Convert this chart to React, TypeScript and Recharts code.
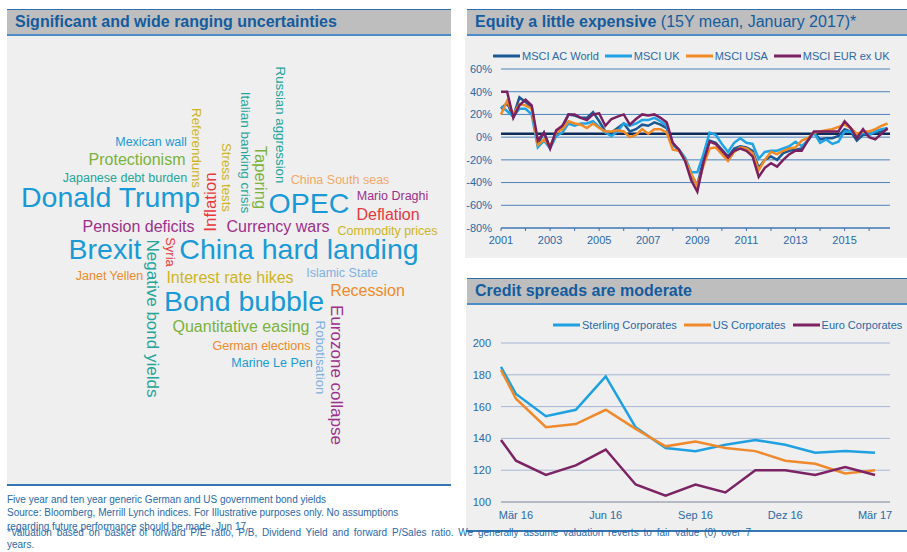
import {
  LineChart,
  Line,
  XAxis,
  YAxis,
  CartesianGrid,
  ReferenceLine,
  ScatterChart,
  Scatter,
} from 'recharts';

const FONT = '"Liberation Sans", Arial, Helvetica, sans-serif';
const TEXT_BLUE = '#2a68a8';
const TITLE_BLUE = '#145c9e';

// ---- word cloud (left panel) ----
const words = [
  'Russian aggression', 'Italian banking crisis', 'Referendums', 'Mexican wall', 'Protectionism',
  'Stress tests', 'Tapering', 'Japanese debt burden', 'China South seas', 'Donald Trump',
  'Inflation', 'OPEC', 'Mario Draghi', 'Deflation', 'Pension deficits',
  'Currency wars', 'Commodity prices', 'Brexit', 'Negative bond yields', 'Syria',
  'China hard landing', 'Janet Yellen', 'Interest rate hikes', 'Islamic State', 'Recession',
  'Bond bubble', 'Quantitative easing', 'German elections', 'Marine Le Pen', 'Robotisation',
  'Eurozone collapse',
];
// word weight (rendered as font size)
const wordWeight = [
  13.3, 13.5, 13.3, 12.5, 16,
  13.2, 16.5, 12.5, 12.5, 28.5,
  17, 28.5, 12.5, 16, 16,
  16, 12.5, 28.5, 17, 13,
  28.5, 12.5, 16, 12.5, 16,
  28.5, 16, 12.5, 12.5, 13.3,
  17,
];
// cloud layout coordinates
const wordX = [273, 238, 189, 144, 130, 219, 254, 118, 333, 103.5, 203, 302, 385.5, 381, 131.5, 271, 380.5, 98, 145.5, 163, 292, 102.5, 223, 335, 360.5, 237, 234, 254.5, 265, 313, 329.5];
const wordY = [89, 116.5, 112, 105.7, 123, 141.5, 141.5, 142, 144, 161, 166, 167, 160, 178.5, 190, 190, 195, 212.5, 282.5, 216, 213, 239.5, 241.5, 237, 254, 264.7, 290, 310, 327, 321.5, 339];
const wordRotation = [90, 90, 90, 0, 0, 90, 90, 0, 0, 0, -90, 0, 0, 0, 0, 0, 0, 0, 90, 90, 0, 0, 0, 0, 0, 0, 0, 0, 0, 90, 90];
const palette: Record<string, string> = {
  blue: '#199ad6',
  green: '#7ab23c',
  teal: '#23a59b',
  purple: '#9c2f8d',
  red: '#e8383d',
  yellow: '#cdb51d',
  orange: '#ee8a2a',
  lightOrange: '#f2a965',
  lightBlue: '#7fb0e2',
};
const wordColor = [
  'teal', 'teal', 'yellow', 'blue', 'green', 'yellow', 'green', 'teal', 'lightOrange', 'blue',
  'red', 'blue', 'purple', 'red', 'purple', 'purple', 'yellow', 'blue', 'teal', 'red',
  'blue', 'orange', 'yellow', 'lightBlue', 'orange', 'blue', 'green', 'orange', 'blue', 'lightBlue',
  'purple',
];

// ---- equity valuations, quarterly 2001-2016 (% vs 15Y mean) ----
const acWorld = [25, 30, 18, 35, 31, 26, -6, 4, -9, 5, 8, 20, 19, 17, 17, 22, 14, 5, 4, 8, 12, 5, 7, 11, 10, 13, 11, 8, -7, -11, -20, -34, -42, -20, -3, -5, -11, -17, -10, -8, -9, -12, -27, -20, -17, -20, -14, -12, -11, -10, -3, 4, -2, -1, -1, 1, 7, 5, -3, 2, 2, 4, 5, 7];
const msciUK = [27, 23, 18, 25, 25, 20, -9, -3, -10, 1, 4, 12, 10, 12, 12, 14, 9, 4, 1, 5, 12, 10, 12, 15, 15, 17, 14, 10, -7, -11, -18, -31, -31, -15, 4, 2, -6, -13, -5, -1, -5, -6, -19, -13, -12, -12, -10, -8, -4, -8, -3, 4, -5, -2, -6, -4, 5, 5, 1, 4, 2, 5, 7, 8];
const msciUSA = [20, 32, 20, 29, 28, 25, -7, -2, -8, 4, 7, 14, 12, 11, 8, 12, 8, 5, 5, 6, 5, 0, 2, 7, 3, 7, 7, 4, -11, -12, -20, -32, -43, -25, -10, -9, -15, -21, -13, -9, -10, -14, -29, -20, -13, -15, -12, -10, -9, -3, -1, 4, 5, 6, 7, 9, 11, 8, 3, 5, 5, 7, 10, 12];
const msciEur = [40, 40, 17, 28, 33, 28, -3, 4, -10, 6, 10, 20, 20, 17, 15, 20, 21, 10, 16, 18, 20, 11, 16, 20, 19, 20, 17, 13, -5, -11, -21, -38, -48, -22, -4, -6, -12, -18, -12, -10, -12, -17, -35, -27, -23, -26, -20, -15, -12, -12, -3, 5, 5, 5, 5, 5, 14, 8, -1, 7, 0, -2, 3, 8];
const quarters = Array.from({ length: 64 }, (_, i) => 2001 + i / 4);
const yearTicks = Array.from({ length: 16 }, (_, i) => 2001 + i);
const pctTicks = [-80, -60, -40, -20, 0, 20, 40, 60];

// ---- credit spreads (bp), monthly ----
const creditMonths = [-0.5, 0, 1, 2, 3, 4, 5, 6, 7, 8, 9, 10, 11, 12];
const monthTicks = [0, 3, 6, 9, 12];
const monthLabels = ['Mär 16', 'Jun 16', 'Sep 16', 'Dez 16', 'Mär 17'];
const sterling = [185, 168, 154, 158, 179, 147, 134, 132, 136, 139, 136, 131, 132, 131];
const usCorp = [183, 165, 147, 149, 158, 146, 135, 138, 134, 132, 126, 124, 118, 120];
const euroCorp = [139, 126, 117, 123, 133, 111, 104, 111, 106, 120, 120, 117, 122, 117];
const spreadTicks = [100, 120, 140, 160, 180, 200];

const cloudData = words.map((word, i) => ({
  word,
  x: wordX[i],
  y: wordY[i],
  size: wordWeight[i],
  rot: wordRotation[i],
  color: palette[wordColor[i]],
}));

const equityData = quarters.map((year, i) => ({
  year,
  acWorld: acWorld[i],
  uk: msciUK[i],
  usa: msciUSA[i],
  eur: msciEur[i],
}));

const creditData = creditMonths.map((m, i) => ({
  m,
  sterling: sterling[i],
  us: usCorp[i],
  euro: euroCorp[i],
}));

const EQUITY_SERIES = [
  { key: 'acWorld', label: 'MSCI AC World', color: '#1b5894' },
  { key: 'uk', label: 'MSCI UK', color: '#1fa3e4' },
  { key: 'usa', label: 'MSCI USA', color: '#ef8a26' },
  { key: 'eur', label: 'MSCI EUR ex UK', color: '#7a2060' },
];

const CREDIT_SERIES = [
  { key: 'sterling', label: 'Sterling Corporates', color: '#1fa0e0' },
  { key: 'us', label: 'US Corporates', color: '#ee8a2c' },
  { key: 'euro', label: 'Euro Corporates', color: '#7b2363' },
];

const renderWord = (props: any) => {
  const { cx, cy, payload } = props;
  return (
    <text
      x={cx}
      y={cy}
      textAnchor="middle"
      dominantBaseline="central"
      fontSize={payload.size}
      fontFamily={FONT}
      fill={payload.color}
      transform={payload.rot ? `rotate(${payload.rot} ${cx} ${cy})` : undefined}
    >
      {payload.word}
    </text>
  );
};

function Header({ left, top, width, children }: any) {
  return (
    <div
      style={{
        position: 'absolute',
        left,
        top,
        width,
        height: 24,
        background: '#bebebe',
        borderTop: '1px solid #2d6fae',
        borderBottom: '2px solid #4d8cc6',
        color: TITLE_BLUE,
        fontSize: 16,
        lineHeight: '24px',
        paddingLeft: 8,
        boxSizing: 'content-box',
        whiteSpace: 'nowrap',
      }}
    >
      {children}
    </div>
  );
}

function LegendRow({ items, style }: any) {
  return (
    <div
      style={{
        position: 'absolute',
        display: 'flex',
        alignItems: 'center',
        gap: 6,
        fontSize: 11,
        color: TEXT_BLUE,
        whiteSpace: 'nowrap',
        ...style,
      }}
    >
      {items.map((it: any) => (
        <div key={it.key} style={{ display: 'flex', alignItems: 'center' }}>
          <svg width={27} height={4} style={{ marginRight: 2 }}>
            <line x1={0} y1={2} x2={27} y2={2} stroke={it.color} strokeWidth={3} />
          </svg>
          <span>{it.label}</span>
        </div>
      ))}
    </div>
  );
}

const note = (top: number, text: string, extra: any = {}) => (
  <div
    style={{
      position: 'absolute',
      left: 7,
      top,
      fontSize: 10,
      lineHeight: '12px',
      color: TEXT_BLUE,
      whiteSpace: 'nowrap',
      ...extra,
    }}
  >
    {text}
  </div>
);

export default function App() {
  const tick = { fontSize: 11, fill: TEXT_BLUE, fontFamily: FONT };
  return (
    <div
      style={{
        position: 'absolute',
        left: 0,
        top: 0,
        width: 907,
        height: 552,
        overflow: 'hidden',
        background: '#ffffff',
        fontFamily: FONT,
      }}
    >
      {/* left panel */}
      <Header left={7} top={9} width={436}>
        <b>Significant and wide ranging uncertainties</b>
      </Header>
      <div
        style={{
          position: 'absolute',
          left: 7,
          top: 36,
          width: 444,
          height: 448,
          background: '#efefef',
          borderBottom: '2px solid #3577b5',
        }}
      >
        <ScatterChart width={444} height={449} margin={{ top: 0, right: 0, bottom: 0, left: 0 }}>
          <XAxis type="number" dataKey="x" domain={[0, 444]} hide />
          <YAxis type="number" dataKey="y" domain={[0, 449]} reversed hide />
          <Scatter data={cloudData} shape={renderWord} isAnimationActive={false} />
        </ScatterChart>
      </div>

      {/* equity panel */}
      <Header left={467} top={9} width={432}>
        <b>Equity a little expensive</b> (15Y mean, January 2017)*
      </Header>
      <div
        style={{ position: 'absolute', left: 465, top: 36, width: 442, height: 222, background: '#efefef' }}
      >
        <div style={{ position: 'absolute', left: 1, top: 0 }}>
          <LineChart width={441} height={218} data={equityData} margin={{ top: 33, right: 17, bottom: 0, left: 0 }}>
            <CartesianGrid vertical={false} stroke="#4d82ba" strokeWidth={1} />
            <XAxis
              dataKey="year"
              type="number"
              domain={[2001, 2016.85]}
              ticks={yearTicks}
              interval={0}
              tickFormatter={(v: number) => (v % 2 === 1 ? String(v) : '')}
              height={26}
              tick={tick}
              tickSize={3}
              tickMargin={5}
              axisLine={{ stroke: '#3b73ad' }}
              tickLine={{ stroke: '#3b73ad' }}
            />
            <YAxis
              domain={[-80, 60]}
              ticks={pctTicks}
              interval={0}
              tickFormatter={(v: number) => `${v}%`}
              width={35}
              axisLine={false}
              tickLine={false}
              tick={tick}
              tickMargin={3}
            />
            <ReferenceLine y={3} stroke="#0d2c5c" strokeWidth={2.5} />
            {EQUITY_SERIES.map((s) => (
              <Line
                key={s.key}
                type="linear"
                dataKey={s.key}
                stroke={s.color}
                strokeWidth={2.5}
                dot={false}
                isAnimationActive={false}
              />
            ))}
          </LineChart>
        </div>
      </div>
      <LegendRow items={EQUITY_SERIES} style={{ left: 493, top: 50 }} />

      {/* credit panel */}
      <Header left={467} top={278} width={432}>
        <b>Credit spreads are moderate</b>
      </Header>
      <div
        style={{
          position: 'absolute',
          left: 466,
          top: 305,
          width: 441,
          height: 225,
          background: '#efefef',
          borderBottom: '2px solid #3577b5',
        }}
      >
        <LineChart width={441} height={225} data={creditData} margin={{ top: 38, right: 17, bottom: 0, left: 0 }}>
          <CartesianGrid vertical={false} stroke="#a5b6d4" strokeWidth={1} />
          <XAxis
            dataKey="m"
            type="number"
            domain={[-0.5, 12.5]}
            ticks={monthTicks}
            interval={0}
            tickFormatter={(v: number) => monthLabels[monthTicks.indexOf(v)] ?? ''}
            height={28}
            tick={tick}
            tickSize={6}
            tickMargin={3}
            axisLine={{ stroke: '#a0a0a6' }}
            tickLine={false}
          />
          <YAxis
            domain={[100, 200]}
            ticks={spreadTicks}
            interval={0}
            width={35}
            axisLine={false}
            tickLine={false}
            tick={tick}
            tickMargin={4}
          />
          {CREDIT_SERIES.map((s) => (
            <Line
              key={s.key}
              type="linear"
              dataKey={s.key}
              stroke={s.color}
              strokeWidth={2.5}
              dot={false}
              isAnimationActive={false}
            />
          ))}
        </LineChart>
      </div>
      <LegendRow items={CREDIT_SERIES} style={{ left: 553, top: 319, gap: 7 }} />

      {/* footnotes */}
      {note(494, 'Five year and ten year generic German and US government bond yields')}
      {note(507, 'Source: Bloomberg, Merrill Lynch indices. For Illustrative purposes only. No assumptions')}
      {note(521, 'regarding future performance should be made. Jun 17')}
      {note(
        527,
        '*Valuation based on basket of forward P/E ratio, P/B, Dividend Yield and forward P/Sales ratio. We generally assume valuation reverts to fair value (0) over 7',
        { width: 744, whiteSpace: 'normal', textAlign: 'justify', textAlignLast: 'justify', height: 12, overflow: 'hidden' }
      )}
      {note(539, 'years.')}
    </div>
  );
}
